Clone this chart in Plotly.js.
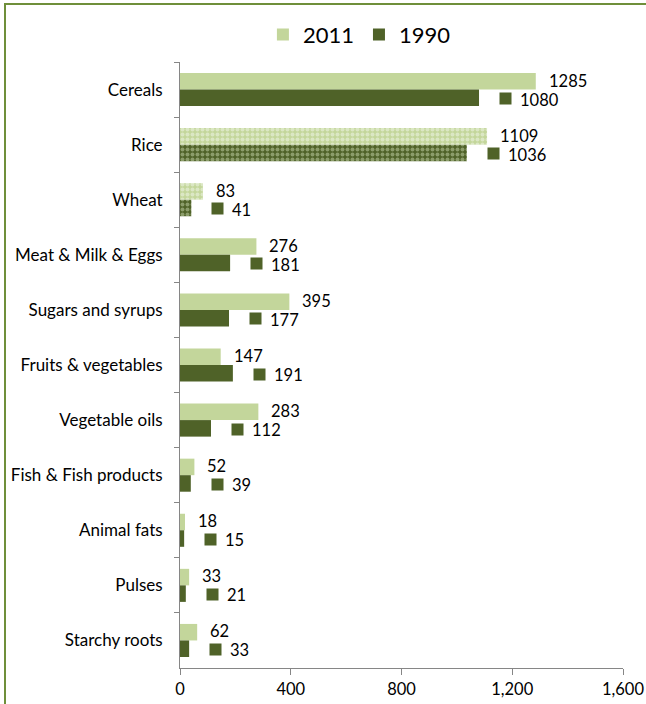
<!DOCTYPE html>
<html>
<head>
<meta charset="utf-8">
<script src="https://cdn.plot.ly/plotly-3.0.1.min.js"></script>
<style>
  html, body { margin: 0; padding: 0; background: #fff; }
  #wrap { position: relative; width: 646px; height: 704px; overflow: hidden; }
  #chart { width: 646px; height: 704px; }
  #bl { position: absolute; left: 4px; top: 3px; width: 2px; height: 701px; background: #6f8f3a; }
  #bt { position: absolute; left: 4px; top: 3px; width: 642px; height: 2px; background: #6f8f3a; }
</style>
</head>
<body>
<div id="wrap">
  <div id="chart"></div>
  <div id="bl"></div>
  <div id="bt"></div>
</div>
<script>
const categories = ["Cereals", "Rice", "Wheat", "Meat & Milk & Eggs", "Sugars and syrups",
  "Fruits & vegetables", "Vegetable oils", "Fish & Fish products", "Animal fats", "Pulses", "Starchy roots"];
const values2011 = [1285, 1109, 83, 276, 395, 147, 283, 52, 18, 33, 62];
const values1990 = [1080, 1036, 41, 181, 177, 191, 112, 39, 15, 21, 33];
const patterned = [false, true, true, false, false, false, false, false, false, false, false];
const seriesNames = ["2011", "1990"];
const xTicks = [0, 400, 800, 1200, 1600];

const LIGHT = "#c3d69b";
const DARK = "#4f6228";
const GRAY = "#868686";
const FONT = "Lato, 'Liberation Sans', sans-serif";

const shapes = patterned.map(p => p ? "." : "");

const traces = [
  {
    type: "bar", orientation: "h", name: seriesNames[0],
    y: categories, x: values2011,
    marker: { color: LIGHT, line: { width: 0 },
      pattern: { shape: shapes, fillmode: "overlay", fgcolor: "#f4f8ee", size: 5, solidity: 0.5 } },
    hoverinfo: "x+y"
  },
  {
    type: "bar", orientation: "h", name: seriesNames[1],
    y: categories, x: values1990,
    marker: { color: DARK, line: { width: 0 },
      pattern: { shape: shapes, fillmode: "overlay", fgcolor: "#c9d8ae", size: 5, solidity: 0.5 } },
    hoverinfo: "x+y"
  }
];

const annotations = [];
categories.forEach((c, i) => {
  annotations.push({
    x: values2011[i], y: c, xref: "x", yref: "y",
    text: String(values2011[i]), showarrow: false,
    xanchor: "left", yanchor: "middle", xshift: 11, yshift: 9,
    font: { family: FONT, size: 16.5, color: "#000" }
  });
  annotations.push({
    x: values1990[i], y: c, xref: "x", yref: "y",
    text: " ", showarrow: false, width: 11, height: 11, borderpad: 0,
    bgcolor: DARK, xanchor: "left", yanchor: "middle", xshift: 20, yshift: -9
  });
  annotations.push({
    x: values1990[i], y: c, xref: "x", yref: "y",
    text: String(values1990[i]), showarrow: false,
    xanchor: "left", yanchor: "middle", xshift: 39, yshift: -10,
    font: { family: FONT, size: 16.5, color: "#000" }
  });
});

const layout = {
  width: 646, height: 704,
  margin: { l: 180, r: 23, t: 62, b: 36 },
  paper_bgcolor: "#fff", plot_bgcolor: "#fff",
  font: { family: FONT, size: 16, color: "#000" },
  barmode: "group", bargap: 0.4, bargroupgap: 0,
  showlegend: true,
  legend: {
    orientation: "h", x: 0.405, xanchor: "center", y: 1.045, yanchor: "middle",
    font: { family: FONT, size: 22, color: "#000" }, traceorder: "normal",
    bgcolor: "rgba(0,0,0,0)"
  },
  xaxis: {
    range: [0, 1600], tickvals: xTicks, tickformat: ",",
    showgrid: false, zeroline: false, showline: true, linecolor: GRAY, linewidth: 1,
    ticks: "outside", ticklen: 6, tickcolor: GRAY,
    tickfont: { family: FONT, size: 16.5, color: "#000" }, fixedrange: true
  },
  yaxis: {
    type: "category", autorange: "reversed",
    showgrid: false, zeroline: false, showline: true, linecolor: GRAY, linewidth: 1,
    ticks: "outside", ticklen: 5, tickcolor: GRAY, tickson: "boundaries",
    ticklabelstandoff: 13,
    tickfont: { family: FONT, size: 17, color: "#000" }, fixedrange: true
  },
  annotations: annotations
};

Plotly.newPlot("chart", traces, layout, { displayModeBar: false, staticPlot: true });
</script>
</body>
</html>
